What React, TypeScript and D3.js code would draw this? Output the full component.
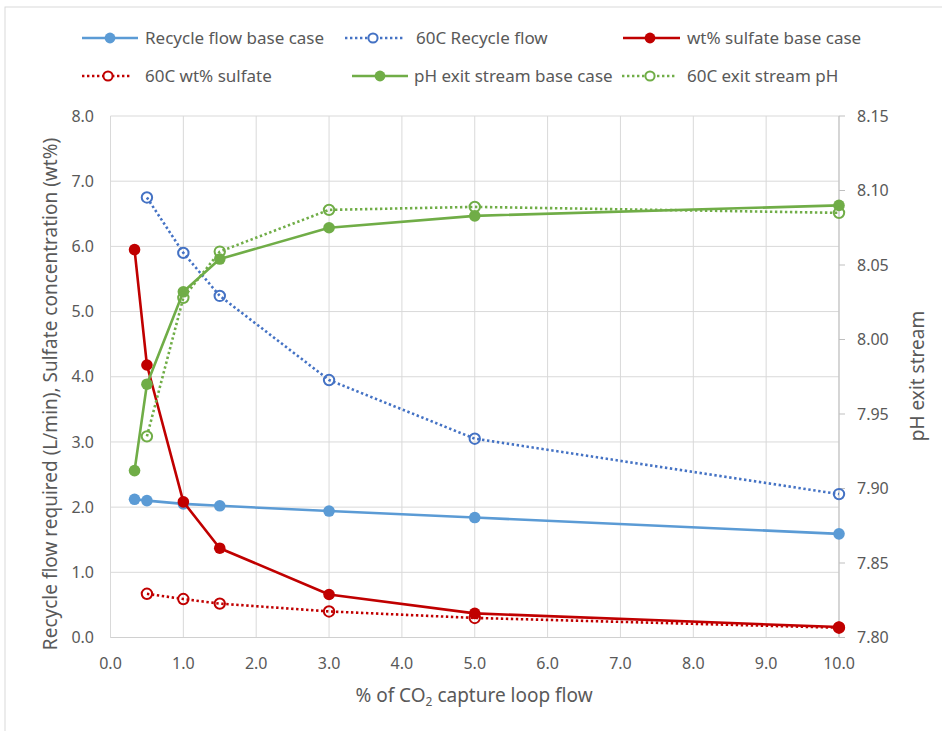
import React from "react";
import * as d3 from "d3";

const xBase = [0.33, 0.5, 1, 1.5, 3, 5, 10];
const x60 = [0.5, 1, 1.5, 3, 5, 10];
const recycleBase = [2.12, 2.1, 2.05, 2.02, 1.94, 1.84, 1.59];
const recycle60 = [6.75, 5.9, 5.24, 3.95, 3.05, 2.2];
const sulfateBase = [5.95, 4.18, 2.08, 1.37, 0.66, 0.37, 0.16];
const sulfate60 = [0.67, 0.59, 0.52, 0.4, 0.3, 0.15];
const phBase = [7.912, 7.97, 8.032, 8.054, 8.075, 8.083, 8.09];
const ph60 = [7.935, 8.028, 8.059, 8.087, 8.089, 8.085];

const xTicks = d3.range(0, 10.001, 1);
const yTicks = d3.range(0, 8.001, 1);
const y2Ticks = [7.8, 7.85, 7.9, 7.95, 8.0, 8.05, 8.1, 8.15];

type Series = {
  name: string;
  xs: number[];
  ys: number[];
  color: string;
  dotted: boolean;
  axis: "left" | "right";
  lx: [number, number, number];
  tx: number;
  ly: number;
};

const series: Series[] = [
  { name: "Recycle flow base case", xs: xBase, ys: recycleBase, color: "#5b9bd5", dotted: false, axis: "left", lx: [82, 110, 138], tx: 145, ly: 38 },
  { name: "60C Recycle flow", xs: x60, ys: recycle60, color: "#4472c4", dotted: true, axis: "left", lx: [345, 373, 403], tx: 416, ly: 38 },
  { name: "wt% sulfate base case", xs: xBase, ys: sulfateBase, color: "#c00000", dotted: false, axis: "left", lx: [623, 650, 680], tx: 687, ly: 38 },
  { name: "60C wt% sulfate", xs: x60, ys: sulfate60, color: "#c00000", dotted: true, axis: "left", lx: [82, 108, 132], tx: 145, ly: 76 },
  { name: "pH exit stream base case", xs: xBase, ys: phBase, color: "#70ad47", dotted: false, axis: "right", lx: [352, 380, 408], tx: 414, ly: 76 },
  { name: "60C exit stream pH", xs: x60, ys: ph60, color: "#70ad47", dotted: true, axis: "right", lx: [622, 650, 677], tx: 687, ly: 76 },
];

const FONT = "'Noto Sans', 'Open Sans', sans-serif";
const TXT = "#595959";

export default function App() {
  const W = 942, H = 731;
  const x = d3.scaleLinear().domain([0, 10]).range([110.5, 839]);
  const yL = d3.scaleLinear().domain([0, 8]).range([637.5, 116]);
  const yR = d3.scaleLinear().domain([7.8, 8.15]).range([637.5, 116]);

  return (
    <svg width={W} height={H} style={{ position: "absolute", left: 0, top: 0, background: "#fff" }} fontFamily={FONT}>
      <rect x={5} y={7} width={2000} height={2000} fill="none" stroke="#d9d9d9" strokeWidth={1} />
      {/* gridlines */}
      {xTicks.map((t) => (
        <line key={"gx" + t} x1={x(t)} x2={x(t)} y1={yL(0)} y2={yL(8)} stroke="#d9d9d9" strokeWidth={1} />
      ))}
      {yTicks.map((t) => (
        <line key={"gy" + t} x1={x(0)} x2={x(10)} y1={yL(t)} y2={yL(t)} stroke="#d9d9d9" strokeWidth={1} />
      ))}
      {/* right axis */}
      <line x1={x(10)} x2={x(10)} y1={yR(7.8)} y2={yR(8.15)} stroke="#bfbfbf" strokeWidth={1} />
      {y2Ticks.map((t) => (
        <line key={"rt" + t} x1={x(10)} x2={x(10) + 6} y1={yR(t)} y2={yR(t)} stroke="#bfbfbf" strokeWidth={1} />
      ))}
      <line x1={x(0)} x2={x(10)} y1={yL(0)} y2={yL(0)} stroke="#d0d0d0" strokeWidth={1} />
      {/* tick labels */}
      {yTicks.map((t) => (
        <text key={"yl" + t} x={94} y={yL(t)} dy="0.35em" textAnchor="end" fontSize={16} fill={TXT}>
          {d3.format(".1f")(t)}
        </text>
      ))}
      {y2Ticks.map((t) => (
        <text key={"yr" + t} x={857} y={yR(t)} dy="0.35em" textAnchor="start" fontSize={16} fill={TXT}>
          {d3.format(".2f")(t)}
        </text>
      ))}
      {xTicks.map((t) => (
        <text key={"xl" + t} x={x(t)} y={663} dy="0.35em" textAnchor="middle" fontSize={16} fill={TXT}>
          {d3.format(".1f")(t)}
        </text>
      ))}
      {/* axis titles */}
      <text x={474} y={695} dy="0.35em" textAnchor="middle" fontSize={19} fill={TXT}>
        % of CO<tspan fontSize={12} dy="4">2</tspan><tspan dy="-4"> capture loop flow</tspan>
      </text>
      <text transform={`translate(50,394) rotate(-90)`} dy="0.35em" textAnchor="middle" fontSize={19} fill={TXT}>
        Recycle flow required (L/min), Sulfate concentration (wt%)
      </text>
      <text transform={`translate(917,376) rotate(-90)`} dy="0.35em" textAnchor="middle" fontSize={19} fill={TXT}>
        pH exit stream
      </text>
      {/* series */}
      {series.map((s) => {
        const yS = s.axis === "left" ? yL : yR;
        const pts: [number, number][] = s.xs.map((v, i) => [x(v), yS(s.ys[i])]);
        const line = d3.line()(pts) || "";
        return (
          <g key={s.name}>
            <path d={line} fill="none" stroke={s.color} strokeWidth={2.6}
              strokeDasharray={s.dotted ? "2.4 2.6" : undefined} strokeLinejoin="round" />
            {pts.map((p, i) =>
              s.dotted ? (
                <circle key={i} cx={p[0]} cy={p[1]} r={5.2} fill="none" stroke={s.color} strokeWidth={2} />
              ) : (
                <circle key={i} cx={p[0]} cy={p[1]} r={5.8} fill={s.color} />
              )
            )}
          </g>
        );
      })}
      {/* legend */}
      {series.map((s) => (
        <g key={"lg" + s.name}>
          <line x1={s.lx[0]} x2={s.lx[2]} y1={s.ly} y2={s.ly} stroke={s.color} strokeWidth={2.6}
            strokeDasharray={s.dotted ? "2.4 2.6" : undefined} />
          {s.dotted ? (
            <circle cx={s.lx[1]} cy={s.ly} r={4.6} fill="#fff" stroke={s.color} strokeWidth={2} />
          ) : (
            <circle cx={s.lx[1]} cy={s.ly} r={5.4} fill={s.color} />
          )}
          <text x={s.tx} y={s.ly} dy="0.35em" fontSize={17} fill={TXT}>{s.name}</text>
        </g>
      ))}
    </svg>
  );
}
